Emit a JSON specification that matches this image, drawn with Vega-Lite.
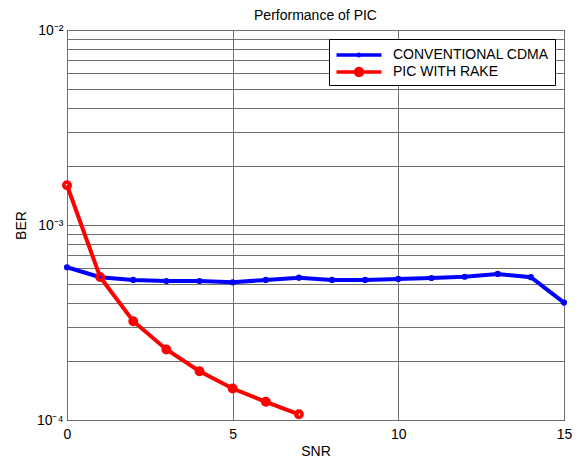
{
  "$schema": "https://vega.github.io/schema/vega-lite/v6.json",
  "autosize": "none",
  "width": 497,
  "height": 390,
  "padding": {"left": 67, "top": 30, "right": 14, "bottom": 41},
  "background": "white",
  "title": {"text": "Performance of PIC", "fontSize": 14, "fontWeight": "normal", "font": "Liberation Sans", "color": "#000", "offset": 0},
  "config": {
    "font": "Liberation Sans",
    "view": {"stroke": "#000", "strokeWidth": 1},
    "axis": {"domain": false, "ticks": false, "gridColor": "#707070", "gridWidth": 1, "gridOpacity": 1, "labelColor": "#000", "titleColor": "#000", "labelFont": "Liberation Sans", "titleFont": "Liberation Sans", "labelFontSize": 14, "titleFontSize": 14, "titleFontWeight": "normal"}
  },
  "data": {"values": [
    {"snr": 0, "ber": 0.000607, "series": "CONVENTIONAL CDMA"},
    {"snr": 1, "ber": 0.000540, "series": "CONVENTIONAL CDMA"},
    {"snr": 2, "ber": 0.000523, "series": "CONVENTIONAL CDMA"},
    {"snr": 3, "ber": 0.000516, "series": "CONVENTIONAL CDMA"},
    {"snr": 4, "ber": 0.000516, "series": "CONVENTIONAL CDMA"},
    {"snr": 5, "ber": 0.000508, "series": "CONVENTIONAL CDMA"},
    {"snr": 6, "ber": 0.000523, "series": "CONVENTIONAL CDMA"},
    {"snr": 7, "ber": 0.000537, "series": "CONVENTIONAL CDMA"},
    {"snr": 8, "ber": 0.000523, "series": "CONVENTIONAL CDMA"},
    {"snr": 9, "ber": 0.000523, "series": "CONVENTIONAL CDMA"},
    {"snr": 10, "ber": 0.000529, "series": "CONVENTIONAL CDMA"},
    {"snr": 11, "ber": 0.000535, "series": "CONVENTIONAL CDMA"},
    {"snr": 12, "ber": 0.000543, "series": "CONVENTIONAL CDMA"},
    {"snr": 13, "ber": 0.000561, "series": "CONVENTIONAL CDMA"},
    {"snr": 14, "ber": 0.000540, "series": "CONVENTIONAL CDMA"},
    {"snr": 15, "ber": 0.000400, "series": "CONVENTIONAL CDMA"},
    {"snr": 0, "ber": 0.00160, "series": "PIC WITH RAKE"},
    {"snr": 1, "ber": 0.000541, "series": "PIC WITH RAKE"},
    {"snr": 2, "ber": 0.000321, "series": "PIC WITH RAKE"},
    {"snr": 3, "ber": 0.000230, "series": "PIC WITH RAKE"},
    {"snr": 4, "ber": 0.000178, "series": "PIC WITH RAKE"},
    {"snr": 5, "ber": 0.000145, "series": "PIC WITH RAKE"},
    {"snr": 6, "ber": 0.000124, "series": "PIC WITH RAKE"},
    {"snr": 7, "ber": 0.000107, "series": "PIC WITH RAKE"}
  ]},
  "encoding": {
    "x": {"field": "snr", "type": "quantitative", "title": "SNR",
      "scale": {"domain": [0, 15], "nice": false, "zero": false},
      "axis": {"values": [0, 5, 10, 15], "labelFlush": false, "labelPadding": 7, "titlePadding": 3, "labelOverlap": false}},
    "y": {"field": "ber", "type": "quantitative", "title": "BER",
      "scale": {"type": "log", "domain": [0.0001, 0.01], "nice": false},
      "axis": {"values": [0.0001, 0.0002, 0.0003, 0.0004, 0.0005, 0.0006, 0.0007, 0.0008, 0.0009, 0.001, 0.002, 0.003, 0.004, 0.005, 0.006, 0.007, 0.008, 0.009, 0.01],
        "labelExpr": "datum.value === 0.01 ? '10\u207b\u00b2' : datum.value === 0.001 ? '10\u207b\u00b3' : datum.value === 0.0001 ? '10\u207b\u2074' : ''",
        "labelPadding": 4, "titlePadding": 8, "labelOverlap": false}},
    "color": {"field": "series", "type": "nominal",
      "scale": {"domain": ["CONVENTIONAL CDMA", "PIC WITH RAKE"], "range": ["#0000ff", "#ff0000"]},
      "legend": {
        "title": null, "orient": "top-right", "offset": 9,
        "fillColor": "white", "strokeColor": "#000", "padding": 6, "cornerRadius": 0,
        "labelFontSize": 14, "labelColor": "#000", "labelFont": "Liberation Sans",
        "symbolSize": 400, "symbolOffset": 14, "labelOffset": 24, "rowPadding": 0, "symbolStrokeWidth": 0,
        "encode": {"symbols": {"update": {
          "shape": {"signal": "datum.value === 'PIC WITH RAKE' ? 'M-2.25,-0.18 H2.25 V0.18 H-2.25 Z M0.52,0 A0.52,0.52 0 1,1 -0.52,0 A0.52,0.52 0 1,1 0.52,0 Z' : 'M-2.25,-0.18 H2.25 V0.18 H-2.25 Z M0.25,0 A0.25,0.25 0 1,1 -0.25,0 A0.25,0.25 0 1,1 0.25,0 Z'"},
          "fill": {"signal": "datum.value === 'PIC WITH RAKE' ? '#ff0000' : '#0000ff'"},
          "fillOpacity": {"value": 1},
          "strokeWidth": {"value": 0}
        }}}
      }}
  },
  "layer": [
    {"mark": {"type": "line", "strokeWidth": 4, "clip": false}, "encoding": {"detail": {"field": "series"}}},
    {"transform": [{"filter": "datum.series === 'CONVENTIONAL CDMA'"}],
     "mark": {"type": "point", "shape": "circle", "filled": true, "size": 38, "opacity": 1, "clip": false}},
    {"transform": [{"filter": "datum.series === 'PIC WITH RAKE'"}],
     "mark": {"type": "point", "shape": "circle", "filled": false, "size": 40, "strokeWidth": 3.6, "opacity": 1, "clip": false}}
  ]
}
